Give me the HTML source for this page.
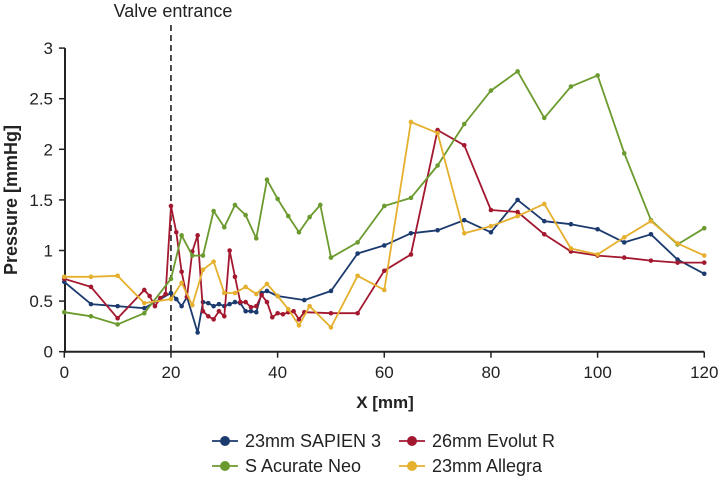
<!DOCTYPE html>
<html><head><meta charset="utf-8"><style>
body{margin:0;background:#fff;width:720px;height:478px;overflow:hidden;font-family:"Liberation Sans",Arial,sans-serif}
</style></head><body>
<svg id="chart" width="720" height="478" style="font-family:'Liberation Sans',Arial,sans-serif">
<g id="axes"></g><g id="series"></g>
<text x="385" y="408" text-anchor="middle" font-size="17" font-weight="bold" fill="#222">X [mm]</text>
<text transform="translate(17,200) rotate(-90)" text-anchor="middle" font-size="18" font-weight="bold" fill="#222">Pressure [mmHg]</text>
<text x="173" y="17" text-anchor="middle" font-size="18" fill="#222">Valve entrance</text>
<g id="legend"></g>
</svg>
<script>
const xTicks=[0,20,40,60,80,100,120];
const yTicks=[0,0.5,1,1.5,2,2.5,3];
const yTickLabels=["0","0.5","1","1.5","2","2.5","3"];
const names=["23mm SAPIEN 3","26mm Evolut R","S Acurate Neo","23mm Allegra"];
const colors=["#1b3a6e","#a3182f","#6b9a2e","#e5b02e"];
const blueX=[0,5,10,15,20,21,22,23,25,26,27,28,29,30,31,32,33,34,35,36,37,38,40,45,50,55,60,65,70,75,80,85,90,95,100,105,110,115,120];
const blueY=[0.69,0.47,0.45,0.43,0.58,0.52,0.45,0.54,0.19,0.49,0.48,0.45,0.47,0.45,0.47,0.49,0.48,0.4,0.4,0.39,0.58,0.6,0.55,0.51,0.6,0.97,1.05,1.17,1.2,1.3,1.18,1.5,1.29,1.26,1.21,1.08,1.16,0.91,0.77];
const redX=[0,5,10,15,16,17,18,19,20,21,22,23,24,25,26,27,28,29,30,31,32,33,34,35,36,37,38,39,40,41,42,43,44,45,50,55,60,65,70,75,80,85,90,95,100,105,110,115,120];
const redY=[0.72,0.64,0.33,0.61,0.55,0.45,0.53,0.57,1.44,1.18,0.79,0.54,0.99,1.15,0.4,0.35,0.32,0.4,0.35,1.0,0.74,0.49,0.49,0.44,0.45,0.56,0.49,0.34,0.38,0.37,0.39,0.4,0.32,0.39,0.38,0.38,0.8,0.96,2.19,2.04,1.4,1.38,1.16,0.99,0.95,0.93,0.9,0.88,0.88];
const greenX=[0,5,10,15,20,22,24,26,28,30,32,34,36,38,40,42,44,46,48,50,55,60,65,70,75,80,85,90,95,100,105,110,115,120];
const greenY=[0.39,0.35,0.27,0.38,0.72,1.15,0.95,0.95,1.39,1.23,1.45,1.35,1.12,1.7,1.51,1.34,1.18,1.33,1.45,0.93,1.08,1.44,1.52,1.84,2.25,2.58,2.77,2.31,2.62,2.73,1.96,1.3,1.06,1.22];
const yellowX=[0,5,10,15,20,22,24,26,28,30,32,34,36,38,40,42,44,46,50,55,60,65,70,75,80,85,90,95,100,105,110,115,120];
const yellowY=[0.74,0.74,0.75,0.48,0.52,0.68,0.46,0.81,0.89,0.58,0.58,0.64,0.57,0.67,0.55,0.42,0.26,0.45,0.24,0.75,0.61,2.27,2.16,1.17,1.24,1.34,1.46,1.02,0.96,1.13,1.29,1.07,0.95];
const NS="http://www.w3.org/2000/svg";
const sx=v=>64.3+v*5.333, sy=v=>351.7-v*101.2;
function mk(tag,attrs,parent){const e=document.createElementNS(NS,tag);for(const k in attrs)e.setAttribute(k,attrs[k]);parent.appendChild(e);return e;}
const ax=document.getElementById('axes');
let l=mk('line',{x1:sx(0),x2:sx(120),y1:sy(0),y2:sy(0),stroke:'#222','stroke-width':2},ax);


l=mk('line',{x1:65,x2:65,y1:sy(3),y2:sy(0)+1,stroke:'#222','stroke-width':2},ax);


xTicks.forEach(t=>{mk('line',{x1:sx(t),x2:sx(t),y1:sy(0),y2:sy(0)+6,stroke:'#222','stroke-width':1.5},ax);
const tx=mk('text',{x:sx(t),y:378,'text-anchor':'middle','font-size':17,fill:'#222'},ax);tx.textContent=t;

});
yTicks.forEach((t,i)=>{mk('line',{x1:59,x2:65,y1:sy(t),y2:sy(t),stroke:'#222','stroke-width':1.5},ax);
const tx=mk('text',{x:53,y:sy(t)+6,'text-anchor':'end','font-size':17,fill:'#222'},ax);tx.textContent=yTickLabels[i];

});
l=mk('line',{x1:sx(20),x2:sx(20),y1:25,y2:sy(0),stroke:'#222','stroke-width':1.6,'stroke-dasharray':'6,4'},ax);


const S=document.getElementById('series');
const data=[[blueX,blueY],[redX,redY],[greenX,greenY],[yellowX,yellowY]];
const sn=['sapien-series','evolut-series','acurate-series','allegra-series'];
data.forEach((d,i)=>{const g=mk('g',{},S);


const pts=d[0].map((x,j)=>sx(x).toFixed(1)+','+sy(d[1][j]).toFixed(1)).join(' ');
mk('polyline',{points:pts,fill:'none',stroke:colors[i],'stroke-width':1.8,'stroke-linejoin':'round'},g);
d[0].forEach((x,j)=>{const c=mk('circle',{cx:sx(x),cy:sy(d[1][j]),r:2.3,fill:colors[i]},g);

});});
const L=document.getElementById('legend');
const pos=[[212,441],[399,441],[212,466],[399,466]];
names.forEach((n,i)=>{const g=mk('g',{},L);


const [x,y]=pos[i];
mk('line',{x1:x,x2:x+26,y1:y,y2:y,stroke:colors[i],'stroke-width':1.8},g);
mk('circle',{cx:x+13,cy:y,r:5,fill:colors[i]},g);
const t=mk('text',{x:x+33,y:y+6,'font-size':18,fill:'#222'},g);t.textContent=n;});
</script>
</body></html>
